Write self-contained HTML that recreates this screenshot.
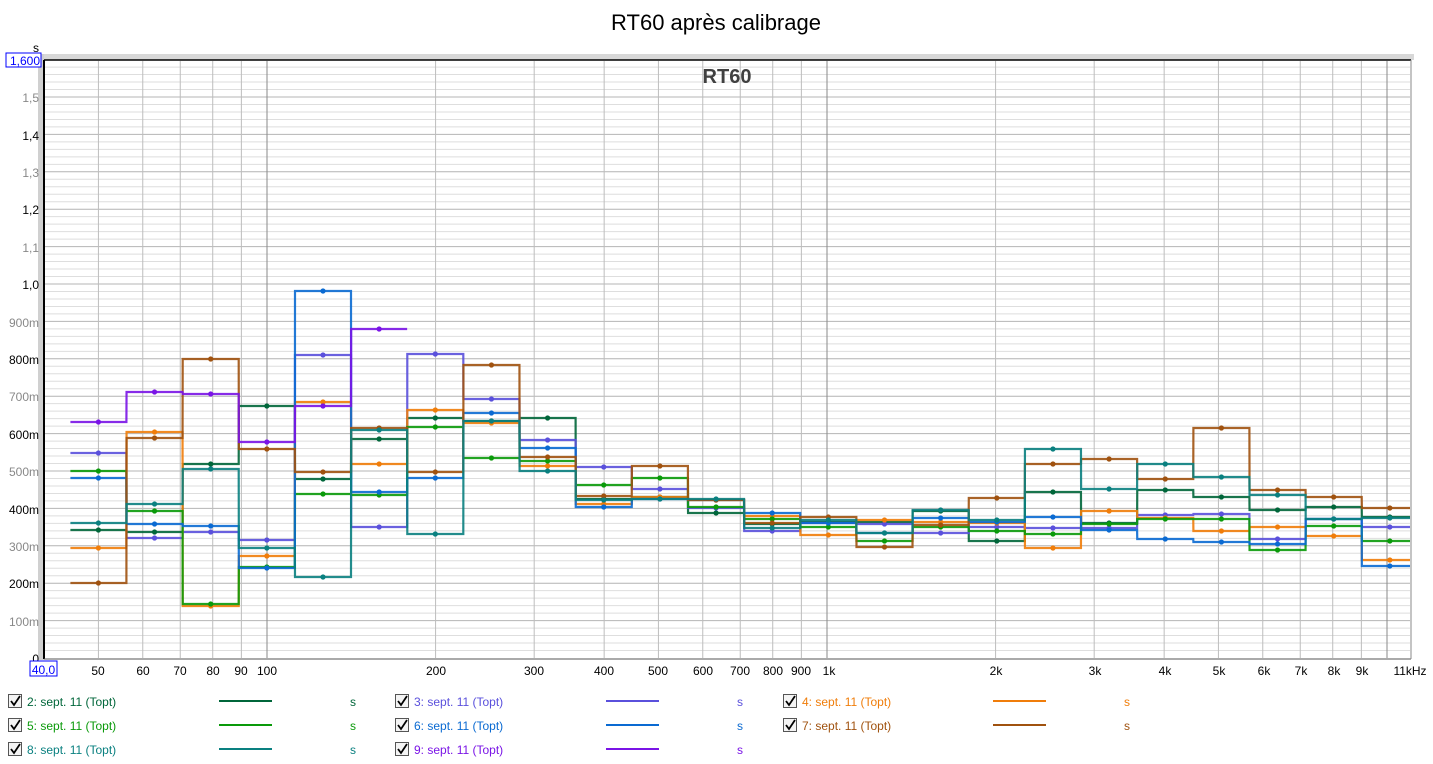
<!DOCTYPE html>
<html><head><meta charset="utf-8"><style>
body{margin:0;background:#fff;width:1433px;height:764px;overflow:hidden;font-family:"Liberation Sans",Arial,sans-serif}
svg{position:absolute;left:0;top:0}
</style></head><body>
<svg id="c" width="1433" height="764" xmlns="http://www.w3.org/2000/svg" font-family="Liberation Sans, Arial, sans-serif">
<text x="716" y="30" font-size="22" text-anchor="middle" fill="#000">RT60 après calibrage</text>
<rect x="38" y="54" width="1376" height="6" fill="#d8d8d8"/>
<rect x="38" y="54" width="6" height="606" fill="#d0d0d0"/>
<g id="grid"></g>
<text x="727" y="83" font-size="20" font-weight="bold" text-anchor="middle" fill="#404040">RT60</text>
<g id="series"></g>
<line x1="44" y1="60" x2="1411" y2="60" stroke="#000" stroke-width="1.5"/>
<line x1="44" y1="60" x2="44" y2="659" stroke="#000" stroke-width="2"/>
<line x1="44" y1="659" x2="1411" y2="659" stroke="#555" stroke-width="1"/>
<line x1="1411" y1="60" x2="1411" y2="659" stroke="#888" stroke-width="1"/>
<g font-size="12" text-anchor="end">
<text x="39" y="52" fill="#000">s</text>
<rect x="6" y="53" width="35" height="14" fill="#fff" stroke="#0000ff"/>
<text x="40" y="65" fill="#0000ff">1,600</text>
<text x="39" y="102" fill="#888">1,5</text>
<text x="39" y="140" fill="#000">1,4</text>
<text x="39" y="177" fill="#888">1,3</text>
<text x="39" y="214" fill="#000">1,2</text>
<text x="39" y="252" fill="#888">1,1</text>
<text x="39" y="289" fill="#000">1,0</text>
<text x="39" y="327" fill="#888">900m</text>
<text x="39" y="364" fill="#000">800m</text>
<text x="39" y="401" fill="#888">700m</text>
<text x="39" y="439" fill="#000">600m</text>
<text x="39" y="476" fill="#888">500m</text>
<text x="39" y="514" fill="#000">400m</text>
<text x="39" y="551" fill="#888">300m</text>
<text x="39" y="588" fill="#000">200m</text>
<text x="39" y="626" fill="#888">100m</text>
<text x="39" y="663" fill="#000">0</text>
</g>
<g font-size="12" text-anchor="middle" fill="#000">
<rect x="30" y="661" width="27" height="15" fill="#fff" stroke="#0000ff"/>
<text x="43.5" y="674" fill="#0000ff">40,0</text>
<text x="98" y="675">50</text><text x="143" y="675">60</text><text x="180" y="675">70</text>
<text x="213" y="675">80</text><text x="241" y="675">90</text><text x="267" y="675">100</text>
<text x="436" y="675">200</text><text x="534" y="675">300</text><text x="604" y="675">400</text>
<text x="658" y="675">500</text><text x="703" y="675">600</text><text x="740" y="675">700</text>
<text x="773" y="675">800</text><text x="801" y="675">900</text><text x="829" y="675">1k</text>
<text x="996" y="675">2k</text><text x="1095" y="675">3k</text><text x="1165" y="675">4k</text>
<text x="1219" y="675">5k</text><text x="1264" y="675">6k</text><text x="1301" y="675">7k</text>
<text x="1334" y="675">8k</text><text x="1362" y="675">9k</text><text x="1410" y="675">11kHz</text>
</g>
<g font-size="12" id="legend">
<text x="27" y="706" fill="#00663a">2: sept. 11 (Topt)</text><text x="350" y="706" fill="#00663a">s</text>
<text x="414" y="706" fill="#5a50dc">3: sept. 11 (Topt)</text><text x="737" y="706" fill="#5a50dc">s</text>
<text x="802" y="706" fill="#f07d0a">4: sept. 11 (Topt)</text><text x="1124" y="706" fill="#f07d0a">s</text>
<text x="27" y="730" fill="#0a9a0a">5: sept. 11 (Topt)</text><text x="350" y="730" fill="#0a9a0a">s</text>
<text x="414" y="730" fill="#0a6ad2">6: sept. 11 (Topt)</text><text x="737" y="730" fill="#0a6ad2">s</text>
<text x="802" y="730" fill="#a0520f">7: sept. 11 (Topt)</text><text x="1124" y="730" fill="#a0520f">s</text>
<text x="27" y="754" fill="#0a8080">8: sept. 11 (Topt)</text><text x="350" y="754" fill="#0a8080">s</text>
<text x="414" y="754" fill="#7a14e6">9: sept. 11 (Topt)</text><text x="737" y="754" fill="#7a14e6">s</text>
</g>
<g id="leg2"></g>
</svg>
<script>
var NS="http://www.w3.org/2000/svg";
function el(p,t,a){var e=document.createElementNS(NS,t);for(var k in a)e.setAttribute(k,a[k]);p.appendChild(e);return e;}
var g=document.getElementById("grid");
for(var i=1;i<80;i++){var y=658-i*0.02*374;if(y<61)break;el(g,"line",{x1:45,x2:1410,y1:y,y2:y,stroke:(i%5==0)?"#b4b4b4":"#dedede","stroke-width":1});}
var fs=[50,60,70,80,90,100,200,300,400,500,600,700,800,900,1000,2000,3000,4000,5000,6000,7000,8000,9000,10000];
fs.forEach(function(f){var x=267+560*Math.log10(f/100);var dec=(f==100||f==1000||f==10000);el(g,"line",{x1:x,x2:x,y1:61,y2:658,stroke:dec?"#8a8a8a":"#bdbdbd","stroke-width":1});});
var S=[
["#00663a",[530,532,464,406,479,439,418,421,418,499,497,513,524,522,522,511,541,492,523,490,497,510,507,517]],
["#5a50dc",[453,538,532,540,355,527,354,399,440,467,489,508,531,523,524,533,527,528,528,515,514,539,519,527]],
["#f07d0a",[548,432,606,556,402,464,410,423,466,504,497,500,516,535,520,522,523,548,511,518,531,527,536,560]],
["#0a9a0a",[471,511,604,567,494,495,427,458,461,485,478,507,519,527,541,527,531,534,524,519,519,550,526,541]],
["#0a6ad2",[478,524,526,568,291,492,478,413,448,507,499,500,513,523,533,518,522,517,530,539,542,544,519,566]],
["#a0520f",[583,438,359,449,472,428,472,365,457,496,466,500,523,517,547,525,498,464,459,479,428,490,497,508]],
["#0a8080",[523,504,469,548,577,430,534,421,471,500,499,499,528,520,533,510,520,449,489,464,477,495,519,518]],
["#7a14e6",[422,392,394,442,406,329]]];
var sg=document.getElementById("series");
S.forEach(function(s){var c=s[0],v=s[1],d="";
 for(var i=0;i<v.length;i++){var cx=98.4+56.15*i,l=cx-28,r=Math.min(cx+28,1410);
  d+=(i==0?"M"+l+" "+v[i]:"L"+l+" "+v[i])+" L"+r+" "+v[i]+" ";}
 el(sg,"path",{d:d,fill:"none",stroke:c,"stroke-width":2.2,"stroke-opacity":0.9});
 for(var i=0;i<v.length;i++){el(sg,"circle",{cx:98.4+56.15*i,cy:v[i],r:2.6,fill:c});}
});
var lg=document.getElementById("leg2");
var cols=[[8,219],[395,606],[783,993]],rows=[701,725,749];
for(var k=0;k<8;k++){var col=cols[k%3],row=rows[Math.floor(k/3)],c=S[k][0];
 el(lg,"rect",{x:col[0]+0.5,y:row-6.5,width:13,height:13,fill:"#f4f4f4",stroke:"#555","stroke-width":1});
 el(lg,"path",{d:"M"+(col[0]+3)+" "+row+" l3 4 l6 -9",fill:"none",stroke:"#000","stroke-width":1.8});
 el(lg,"line",{x1:col[1],x2:col[1]+53,y1:row,y2:row,stroke:c,"stroke-width":2});}
</script>
</body></html>
